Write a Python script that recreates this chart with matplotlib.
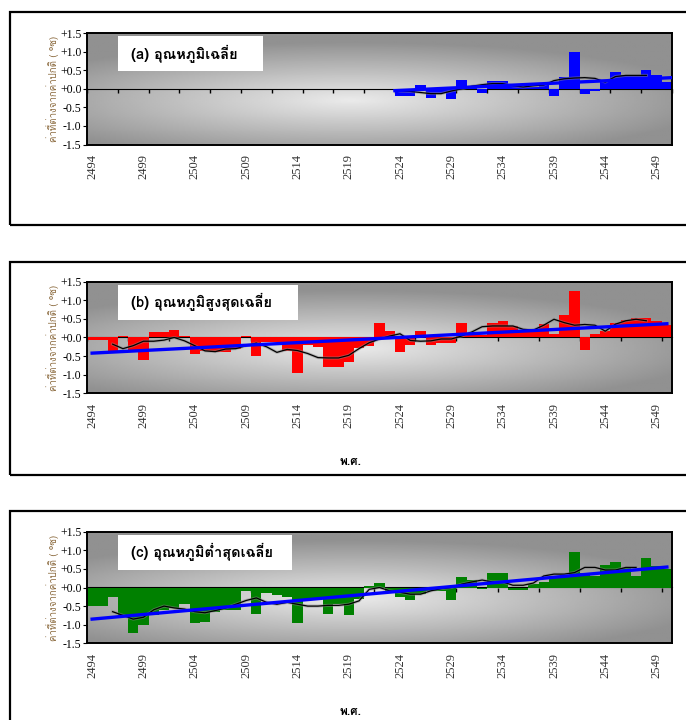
import numpy as np
import matplotlib
matplotlib.use("Agg")
import matplotlib.pyplot as plt
from matplotlib import font_manager
from matplotlib.ft2font import FT2Font
from matplotlib.patches import Rectangle


def find_thai_font():
    for f in font_manager.fontManager.ttflist:
        try:
            if ord("อ") in FT2Font(f.fname).get_charmap():
                return f.name
        except Exception:
            pass
    return "DejaVu Sans"


THAI = find_thai_font()

# ---------- data (anomaly, deg C) ----------
years = list(range(2494, 2551))
tick_years = years[::5]

years_a = list(range(2524, 2551))
anom_a = [-0.2, -0.2, 0.1, -0.25, -0.12, -0.28, 0.24, 0.03, -0.12, 0.22,
          0.22, 0.08, 0.06, 0.05, 0.14, -0.2, 0.32, 1.0, -0.13, -0.06,
          0.2, 0.46, 0.36, 0.36, 0.5, 0.38, 0.18]
ma_years_a = list(range(2524, 2549))
ma_a = [-0.06, -0.07, -0.1, -0.13, -0.13, -0.06, 0.0, 0.07, 0.11, 0.14,
        0.14, 0.08, 0.05, 0.08, 0.1, 0.22, 0.27, 0.29, 0.3, 0.28,
        0.18, 0.33, 0.36, 0.36, 0.36]
trend_years_a = [2523.5, 2550.5]
trend_a = [-0.05, 0.3]

anom_b = [-0.08, -0.08, -0.35, 0.05, -0.35, -0.6, 0.15, 0.15, 0.2, 0.05,
          -0.45, -0.35, -0.4, -0.4, -0.3, 0.05, -0.5, -0.12, -0.12, -0.35,
          -0.95, -0.2, -0.25, -0.78, -0.78, -0.65, -0.28, -0.22, 0.4, 0.18,
          -0.38, -0.2, 0.18, -0.2, -0.14, -0.14, 0.4, 0.08, 0.06, 0.38,
          0.44, 0.3, 0.2, 0.2, 0.35, 0.1, 0.6, 1.26, -0.34, 0.1,
          0.18, 0.38, 0.46, 0.53, 0.53, 0.44, 0.33]
ma_years_b = list(range(2496, 2549))
ma_b = [-0.18, -0.3, -0.22, -0.1, -0.1, -0.07, 0.0, -0.09, -0.22, -0.36,
        -0.38, -0.31, -0.3, -0.22, -0.15, -0.25, -0.4, -0.32, -0.35, -0.43,
        -0.54, -0.55, -0.55, -0.48, -0.3, -0.14, -0.04, 0.04, 0.1, -0.08,
        -0.1, -0.09, -0.04, -0.04, 0.04, 0.15, 0.29, 0.31, 0.31, 0.31,
        0.22, 0.2, 0.33, 0.49, 0.4, 0.33, 0.35, 0.33, 0.17, 0.36,
        0.45, 0.49, 0.45]
trend_years_b = [2494, 2550]
trend_b = [-0.42, 0.37]

anom_c = [-0.5, -0.5, -0.25, -0.75, -1.22, -1.0, -0.75, -0.6, -0.55, -0.45,
          -0.95, -0.92, -0.67, -0.6, -0.6, -0.1, -0.7, -0.15, -0.2, -0.25,
          -0.95, -0.3, -0.3, -0.7, -0.45, -0.74, -0.3, 0.05, 0.13, -0.15,
          -0.25, -0.33, -0.18, -0.1, -0.1, -0.33, 0.29, 0.2, -0.05, 0.38,
          0.38, -0.06, -0.06, 0.1, 0.15, 0.27, 0.3, 0.96, 0.4, 0.3,
          0.6, 0.69, 0.53, 0.3, 0.78, 0.58, 0.5]
ma_years_c = list(range(2496, 2548))
ma_c = [-0.65, -0.75, -0.85, -0.8, -0.6, -0.5, -0.55, -0.58, -0.65, -0.68,
        -0.62, -0.55, -0.45, -0.35, -0.28, -0.4, -0.45, -0.4, -0.45, -0.5,
        -0.5, -0.48, -0.48, -0.45, -0.36, -0.05, 0.0, -0.09, -0.13, -0.18,
        -0.18, -0.09, -0.03, 0.0, 0.09, 0.15, 0.2, 0.15, 0.15, 0.06,
        0.06, 0.12, 0.31, 0.36, 0.36, 0.4, 0.54, 0.54, 0.47, 0.47,
        0.54, 0.54]
trend_years_c = [2494, 2550]
trend_c = [-0.85, 0.55]

panels = [
    ("(a) อุณหภูมิเฉลี่ย", years_a, anom_a, ma_years_a, ma_a,
     trend_years_a, trend_a, "#0000ff", 3, 0.30, False),
    ("(b) อุณหภูมิสูงสุดเฉลี่ย", years, anom_b, ma_years_b, ma_b,
     trend_years_b, trend_b, "#ff0000", 4, 0.36, True),
    ("(c) อุณหภูมิต่ำสุดเฉลี่ย", years, anom_c, ma_years_c, ma_c,
     trend_years_c, trend_c, "#008000", 4, 0.35, True),
]

W, H = 686, 720
fig = plt.figure(figsize=(W / 100, H / 100), dpi=100)

# panel frames (pixel top, bottom)
frames = [(12, 225), (262, 475), (511, 735)]
axes_top = [33, 281.7, 531.7]

# background gradient (styling only)
gx, gy = np.meshgrid(np.linspace(0, 1, 300), np.linspace(0, 1, 120))
d = np.sqrt(((gx - 0.45) / 0.62) ** 2 + ((gy - 0.4) / 0.52) ** 2)
grad = 0.92 - 0.35 * np.clip(d, 0, 1)

yticks = [-1.5, -1.0, -0.5, 0.0, 0.5, 1.0, 1.5]
ytick_labels = ["-1.5", "-1.0", "-0.5", "+0.0", "+0.5", "+1.0", "+1.5"]

for (title, bx, by, mx, my, tx, ty, color, tstep, boxw, show_xlabel), (ft, fb), top in zip(
        panels, frames, axes_top):
    fig.patches.append(Rectangle((10 / W, 1 - fb / H), 0.99, (fb - ft) / H,
                                 transform=fig.transFigure, fill=False,
                                 edgecolor="black", lw=1.6, zorder=0))
    ax = fig.add_axes([87 / W, 1 - (top + 111.6) / H, 585 / W, 111.6 / H])
    ax.imshow(grad, cmap="gray", vmin=0, vmax=1, extent=[0, 1, 0, 1],
              transform=ax.transAxes, aspect="auto", origin="lower", zorder=0)

    ax.bar(bx, by, width=1.0, color=color, linewidth=0, zorder=2)
    ax.plot(mx, my, color="#888888", lw=2.2, alpha=0.5, zorder=3)
    ax.plot(mx, my, color="black", lw=0.9, zorder=4)
    ax.plot(tx, ty, color="#0000ff", lw=2.4, zorder=5)

    ax.set_xlim(years[0] - 0.5, years[-1] + 0.5)
    ax.set_ylim(-1.5, 1.5)
    ax.set_yticks(yticks)
    ax.set_yticklabels(ytick_labels, family="Liberation Serif", fontsize=8.5)
    ax.tick_params(axis="y", length=3, width=0.8, pad=1)
    ax.set_xticks(tick_years)
    ax.set_xticklabels([str(y) for y in tick_years], rotation=90,
                       family="Liberation Serif", fontsize=9, color="#333333")
    ax.tick_params(axis="x", length=0, pad=7)
    for s in ax.spines.values():
        s.set_linewidth(1.4)

    # zero line with category tick marks
    zero = ax.secondary_xaxis(0.5)
    zero.set_xticks(np.arange(years[0] - 0.5, years[-1] + 1, tstep))
    zero.tick_params(axis="x", direction="out", length=3, width=1.0,
                     labelbottom=False, labeltop=False, top=False, bottom=True)
    zero.spines["bottom"].set_linewidth(1.2)

    ax.add_patch(Rectangle((0.053, 0.66), boxw - 0.053, 0.31, transform=ax.transAxes,
                           facecolor="white", edgecolor="none", zorder=6))
    ax.text(0.075, 0.815, title, transform=ax.transAxes, fontsize=10.5,
            fontweight="bold", family=[THAI, "DejaVu Sans"], va="center",
            ha="left", zorder=7)
    ax.set_ylabel("ค่าที่ต่างจากค่าปกติ ( °ซ)", family=[THAI, "DejaVu Sans"],
                  fontsize=7, color="#8b6a3e", labelpad=1)

    if show_xlabel:
        fig.text(350 / W, 1 - (top + 180) / H, "พ.ศ.", family=[THAI, "DejaVu Sans"],
                 fontsize=8.5, fontweight="bold", ha="center", va="center")

fig.savefig("out.png", dpi=100)
